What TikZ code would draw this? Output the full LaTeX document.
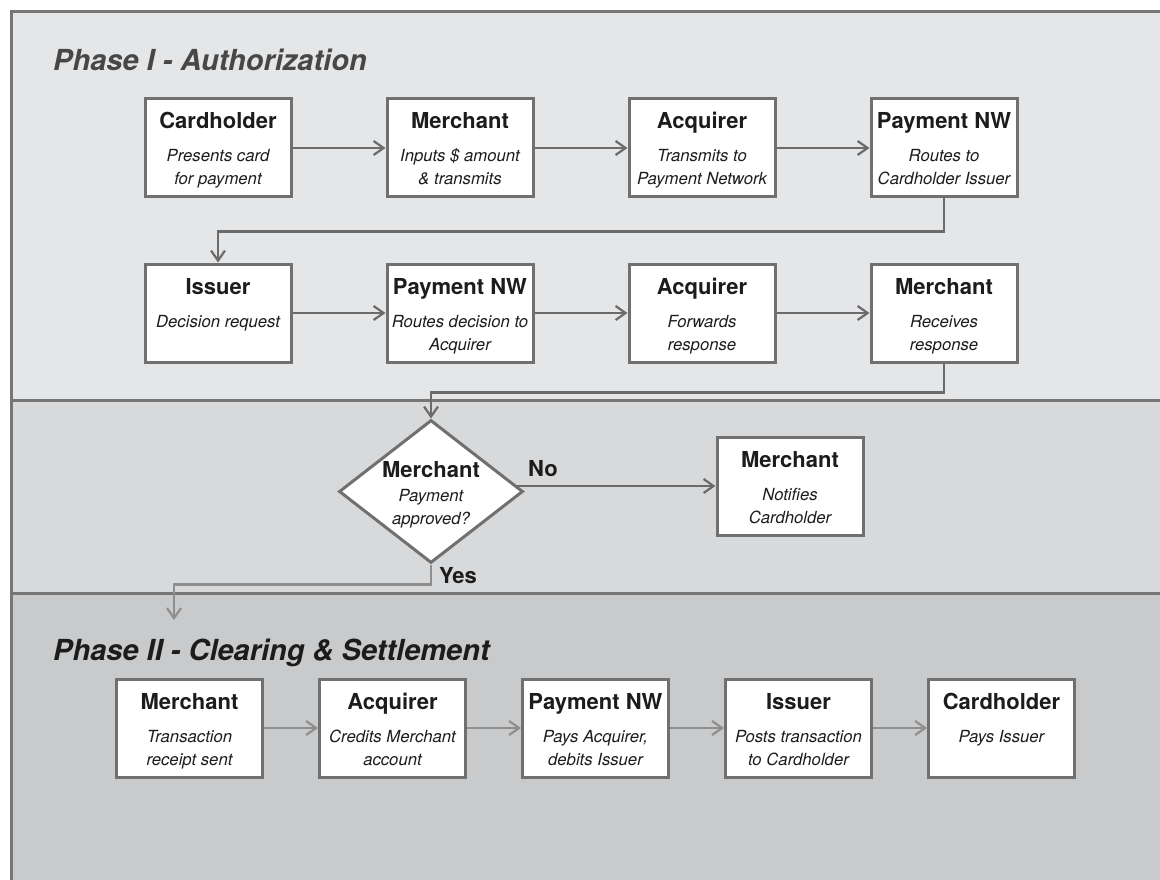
\documentclass[tikz,border=0pt]{standalone}
\usepackage{fontspec}
\setmainfont{TeX Gyre Heros}
\usetikzlibrary{arrows.meta,shapes.geometric,calc}
\definecolor{bandA}{HTML}{E5E6E8}
\definecolor{bandB}{HTML}{D8D9DB}
\definecolor{bandC}{HTML}{C9CACC}
\definecolor{framegray}{HTML}{767676}
\definecolor{boxline}{HTML}{707070}
\definecolor{connA}{HTML}{6B6B6B}
\definecolor{connB}{HTML}{8E8E8E}
\definecolor{txt}{HTML}{1C1C1C}
\definecolor{titleA}{HTML}{474747}
\newcommand{\flowbox}[6]{%
  \node[box] (#1) at (#2,#3+49) {};
  \node[btitle] (#1-t) at (#2,#3+30) {#4};
  \node[bsub] (#1-a) at (#2,#3+63) {#5};
  \node[bsub] (#1-b) at (#2,#3+86) {#6};
}
\begin{document}
\begin{tikzpicture}[x=1pt,y=-1pt,
  box/.style={draw=boxline, line width=3pt, fill=white, minimum width=146pt, minimum height=98pt, inner sep=0pt},
  btitle/.style={anchor=base, inner sep=0pt, text=txt, font=\fontsize{22}{24}\selectfont\bfseries},
  bsub/.style={anchor=base, inner sep=0pt, text=txt, font=\fontsize{16.7}{20}\selectfont\itshape},
  phase/.style={anchor=base west, inner sep=0pt, font=\fontsize{29}{32}\selectfont\bfseries\itshape},
  lbl/.style={anchor=base, inner sep=0pt, text=txt, font=\fontsize{22}{24}\selectfont\bfseries},
  conn/.style={draw=connA, line width=2.5pt, -{Straight Barb[length=10pt,width=14pt,line width=2.2pt]}},
  connL/.style={draw=connB, line width=2.5pt, -{Straight Barb[length=10pt,width=14pt,line width=2.2pt]}},
  sep/.style={draw=framegray, line width=3pt}
]
\clip (0,0) rectangle (1160,880);
% bands
\fill[bandA] (11,12) rectangle (1175,400);
\fill[bandB] (11,400) rectangle (1175,593);
\fill[bandC] (11,593) rectangle (1175,895);
\draw[sep] (11,12) rectangle (1175,895);
\draw[sep] (11,400) -- (1175,400);
\draw[sep] (11,593) -- (1175,593);
% titles
\node[phase, text=titleA] (ph1) at (53,71) {Phase I - Authorization};
\node[phase, text=txt] (ph2) at (53,660) {Phase II - Clearing \& Settlement};
% row 1
\flowbox{c1}{218}{99}{Cardholder}{Presents card}{for payment}
\flowbox{m1}{460}{99}{Merchant}{Inputs \$ amount}{\& transmits}
\flowbox{a1}{702}{99}{Acquirer}{Transmits to}{Payment Network}
\flowbox{p1}{944}{99}{Payment NW}{Routes to}{Cardholder Issuer}
% row 2
\flowbox{i2}{218}{264}{Issuer}{Decision request}{}
\flowbox{p2}{460}{264}{Payment NW}{Routes decision to}{Acquirer}
\flowbox{a2}{702}{264}{Acquirer}{Forwards}{response}
\flowbox{m2}{944}{264}{Merchant}{Receives}{response}
% decision
\node[diamond, draw=boxline, line width=3pt, fill=white, minimum width=184pt, minimum height=143pt, inner sep=0pt] (d) at (431,491.5) {};
\node[btitle] (d-t) at (431,477) {Merchant};
\node[bsub] (d-a) at (431,501) {Payment};
\node[bsub] (d-b) at (431,524) {approved?};
\flowbox{n}{790}{437}{Merchant}{Notifies}{Cardholder}
\node[lbl, anchor=base west] (no) at (528,476) {No};
\node[lbl, anchor=base west] (yes) at (439,583) {Yes};
% phase II
\flowbox{m3}{189.5}{679}{Merchant}{Transaction}{receipt sent}
\flowbox{a3}{392.5}{679}{Acquirer}{Credits Merchant}{account}
\flowbox{p3}{595.5}{679}{Payment NW}{Pays Acquirer,}{debits Issuer}
\flowbox{i3}{798.5}{679}{Issuer}{Posts transaction}{to Cardholder}
\flowbox{h3}{1001.5}{679}{Cardholder}{Pays Issuer}{}
% connectors phase I
\draw[conn] (c1) -- (m1);
\draw[conn] (m1) -- (a1);
\draw[conn] (a1) -- (p1);
\draw[conn] (p1.south) -- ([yshift=-33pt]p1.south) -| (i2.north);
\draw[conn] (i2) -- (p2);
\draw[conn] (p2) -- (a2);
\draw[conn] (a2) -- (m2);
\draw[conn] (m2.south) -- ([yshift=-29pt]m2.south) -| (d.north);
\draw[conn] (d.east |- n.west) ++(-10,0) -- (n.west);
\coordinate (yesend) at (174,620);
\draw[connL] (d.south) -- ([yshift=-20pt]d.south) -| (yesend);
% connectors phase II
\draw[connL] (m3) -- (a3);
\draw[connL] (a3) -- (p3);
\draw[connL] (p3) -- (i3);
\draw[connL] (i3) -- (h3);
\end{tikzpicture}
\end{document}
